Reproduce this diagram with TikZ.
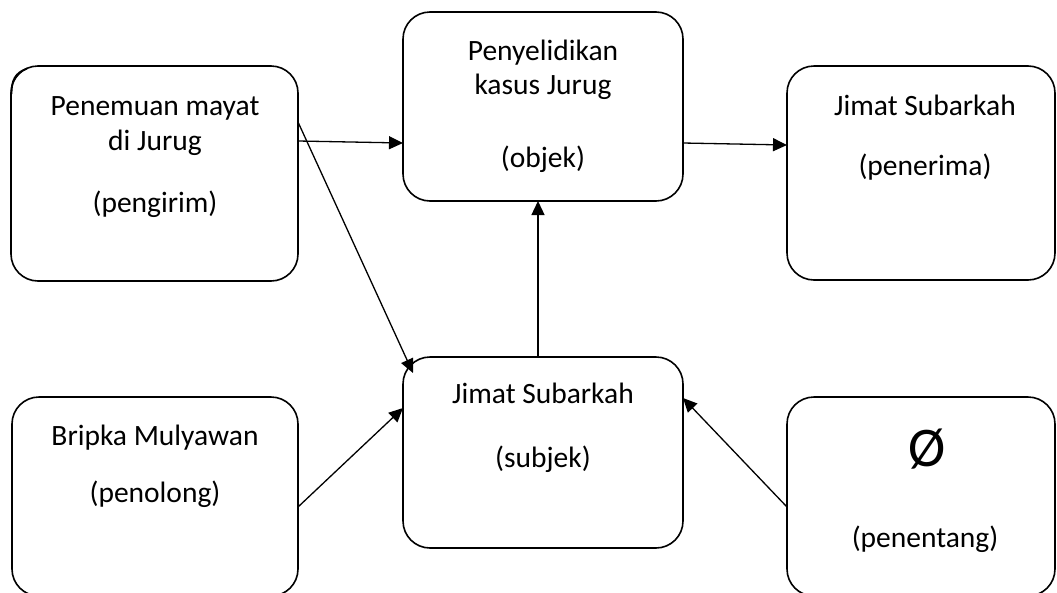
\documentclass[tikz,border=0pt]{standalone}
\usepackage{fontspec}
\setmainfont{Carlito}
\usetikzlibrary{arrows.meta}
\begin{document}
\begin{tikzpicture}[x=1pt,y=-1pt,
  actor/.style={draw, line width=1.6pt, rounded corners=27pt, fill=white,
                inner sep=0pt, outer sep=0pt},
  txt/.style={anchor=base, inner sep=0pt, font=\fontsize{29.5}{35}\selectfont},
  link/.style={line width=1.3pt, -{Triangle[length=14pt,width=13pt]}}
]
% page
\fill[white] (0,0) rectangle (1057,592);
\useasboundingbox (0,0) rectangle (1057,592);
\clip (0,0) rectangle (1057,592);

% actant boxes
\node[actor, minimum width=287pt, minimum height=215pt] (pengirim)  at (154.5,173.5) {};
\node[actor, minimum width=280pt, minimum height=189pt] (objek)     at (543,106.5) {};
\node[actor, minimum width=268pt, minimum height=214pt] (penerima)  at (921,173) {};
\node[actor, minimum width=286pt, minimum height=199pt] (penolong)  at (155,496.5) {};
\node[actor, minimum width=280pt, minimum height=191pt] (subjek)    at (543,452.5) {};
\node[actor, minimum width=268pt, minimum height=199pt] (penentang) at (921,496.5) {};

% stray corner stroke on the sender box
\draw[line width=1.8pt] (11.5,94) .. controls (11.5,80) and (15,73) .. (27,68.5);

% texts
\node[txt] (pengirimA) at (155,115) {Penemuan mayat};
\node[txt] (pengirimB) at (155,150) {di Jurug};
\node[txt] (pengirimC) at (155,212) {(pengirim)};

\node[txt] (objekA) at (543,60) {Penyelidikan};
\node[txt] (objekB) at (543,94) {kasus Jurug};
\node[txt] (objekC) at (543,167) {(objek)};

\node[txt] (penerimaA) at (925,115) {Jimat Subarkah};
\node[txt] (penerimaB) at (925,175) {(penerima)};

\node[txt] (penolongA) at (155,445) {Bripka Mulyawan};
\node[txt] (penolongB) at (155,502) {(penolong)};

\node[txt] (subjekA) at (543,403) {Jimat Subarkah};
\node[txt] (subjekB) at (543,467) {(subjek)};

\node[txt, font=\fontsize{56}{64}\selectfont] (penentangA) at (927,466) {Ø};
\node[txt] (penentangB) at (925,547) {(penentang)};

% connectors
\draw[link] ([yshift=32.5pt]pengirim.east) -- ([yshift=-36.5pt]objek.west);
\draw[link] ([yshift=-36.5pt]objek.east) -- ([yshift=28pt]penerima.west);
\draw[link] ([yshift=51.5pt]pengirim.east) -- ([xshift=10pt,yshift=-16pt]subjek.north west);
\draw[link] ([xshift=-5pt]subjek.north) -- ([xshift=-5pt]objek.south);
\draw[link] ([yshift=-10.5pt]penolong.east) -- ([yshift=44.5pt]subjek.west);
\draw[link] ([yshift=-10.5pt]penentang.west) -- ([yshift=54.5pt]subjek.east);
\end{tikzpicture}
\end{document}
